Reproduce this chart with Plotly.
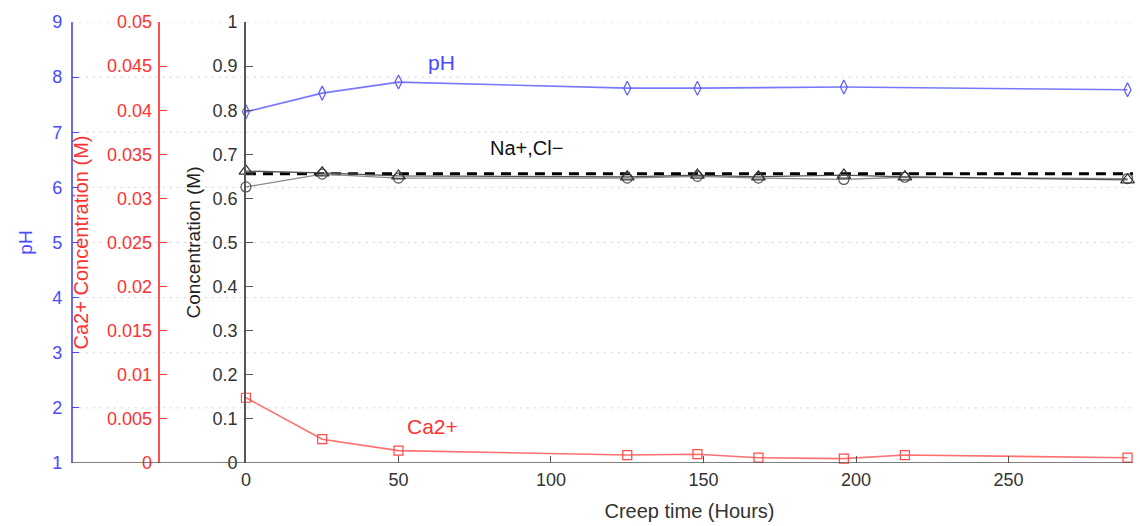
import plotly.graph_objects as go

# Sampling times (hours of creep) and measured solution chemistry
hours = [0, 25, 50, 125, 148, 168, 196, 216, 289]
ph_hours = [0, 25, 50, 125, 148, 196, 289]
ph = [7.37, 7.71, 7.91, 7.80, 7.80, 7.82, 7.77]
ca_conc = [0.0074, 0.0027, 0.0014, 0.0009, 0.0010, 0.0006, 0.0005, 0.0009, 0.0006]
na_conc = [0.662, 0.658, 0.651, 0.649, 0.653, 0.649, 0.653, 0.649, 0.642]
cl_conc = [0.626, 0.655, 0.646, 0.646, 0.650, 0.646, 0.643, 0.648, 0.645]
ref_hours = [0, 290.8]
ref_conc = [0.656, 0.656]

ph_ticks = [1, 2, 3, 4, 5, 6, 7, 8, 9]
x_ticks = [0, 50, 100, 150, 200, 250]

BLUE = "#4a4aff"
RED = "#ff3030"
DARK = "#444444"
FONT = "Liberation Sans, Arial, sans-serif"

X_DOMAIN = [242 / 1140, 1133 / 1140]
PH_POS = 67 / 1140
CA_POS = 155 / 1140

fig = go.Figure()

fig.add_trace(go.Scatter(
    x=ref_hours, y=ref_conc, mode="lines",
    line=dict(color="black", width=3, dash="10px,7px"),
    yaxis="y", cliponaxis=False, showlegend=False))
fig.add_trace(go.Scatter(
    x=hours, y=cl_conc, mode="lines+markers",
    line=dict(color="#8a8a8a", width=1.3),
    marker=dict(symbol="circle-open", size=10, color="#555555", line=dict(width=1.2)),
    yaxis="y", cliponaxis=False, showlegend=False))
fig.add_trace(go.Scatter(
    x=hours, y=na_conc, mode="lines+markers",
    line=dict(color="#555555", width=1.3),
    marker=dict(symbol="triangle-up-open", size=12, color="#333333", line=dict(width=1.2)),
    yaxis="y", cliponaxis=False, showlegend=False))
fig.add_trace(go.Scatter(
    x=hours, y=ca_conc, mode="lines+markers",
    line=dict(color="#ff7070", width=1.6),
    marker=dict(symbol="square-open", size=9, color="#ff4a4a", line=dict(width=1.2)),
    yaxis="y2", cliponaxis=False, showlegend=False))
fig.add_trace(go.Scatter(
    x=ph_hours, y=ph, mode="lines+markers",
    line=dict(color="#7878ff", width=1.6),
    marker=dict(symbol="diamond-tall-open", size=10, color="#5a5aff", line=dict(width=1.2)),
    yaxis="y3", cliponaxis=False, showlegend=False))

shapes = []
# dotted grid lines at the pH ticks, running from the pH axis across the plot
for v in ph_ticks[1:]:
    shapes.append(dict(type="line", xref="paper", yref="y3", x0=PH_POS, x1=X_DOMAIN[1],
                       y0=v, y1=v, layer="below",
                       line=dict(color="#cfd0e0", width=1, dash="2px,5px")))
# common baseline spanning all three y axes
shapes.append(dict(type="line", xref="paper", yref="y", x0=PH_POS, x1=X_DOMAIN[1],
                   y0=0, y1=0, line=dict(color="#555555", width=1.5)))

annotations = [
    dict(x=64, y=0.909, xref="x", yref="y", text="pH", showarrow=False,
         font=dict(color=BLUE, size=21, family=FONT)),
    dict(x=92, y=0.714, xref="x", yref="y", text="Na+,Cl\u2212", showarrow=False,
         font=dict(color="#111111", size=20, family=FONT)),
    dict(x=61, y=0.082, xref="x", yref="y", text="Ca2+", showarrow=False,
         font=dict(color=RED, size=21, family=FONT)),
]

fig.update_layout(
    width=1140, height=526,
    margin=dict(l=0, r=0, t=22, b=63),
    paper_bgcolor="white", plot_bgcolor="white",
    font=dict(family=FONT, size=18, color=DARK),
    shapes=shapes, annotations=annotations,
    xaxis=dict(
        domain=X_DOMAIN, range=[0, 290.8], tickvals=x_ticks,
        ticks="inside", ticklen=7, tickcolor="#555555", tickwidth=1.3,
        showgrid=False, zeroline=False, showline=False, ticklabelstandoff=4,
        tickfont=dict(size=18, color="#333333"),
        title=dict(text="Creep time (Hours)", font=dict(size=20, color="#333333"), standoff=14),
    ),
    yaxis=dict(
        range=[0, 1], dtick=0.1, ticks="inside", ticklen=7, tickcolor="#555555",
        showline=True, linecolor="#555555", linewidth=1.5,
        showgrid=False, zeroline=False, ticklabelstandoff=3,
        tickfont=dict(size=18, color="#333333"),
        title=dict(text="Concentration (M)", font=dict(size=19, color="#222222"), standoff=7),
    ),
    yaxis2=dict(
        overlaying="y", anchor="free", position=CA_POS, side="left",
        range=[0, 0.05], dtick=0.005, ticks="inside", ticklen=7, tickcolor=RED,
        showline=True, linecolor="#ff5050", linewidth=1.5,
        showgrid=False, zeroline=False, ticklabelstandoff=3,
        tickfont=dict(size=18, color=RED),
        title=dict(text="Ca2+ Concentration (M)", font=dict(size=20, color=RED), standoff=12),
    ),
    yaxis3=dict(
        overlaying="y", anchor="free", position=PH_POS, side="left",
        range=[1, 9], dtick=1, ticks="inside", ticklen=7, tickcolor=BLUE,
        showline=True, linecolor="#6a6aff", linewidth=1.5,
        showgrid=False, zeroline=False, ticklabelstandoff=5,
        tickfont=dict(size=18, color=BLUE),
        title=dict(text="pH", font=dict(size=19, color=BLUE), standoff=14),
    ),
)

fig.write_html("out.html")
